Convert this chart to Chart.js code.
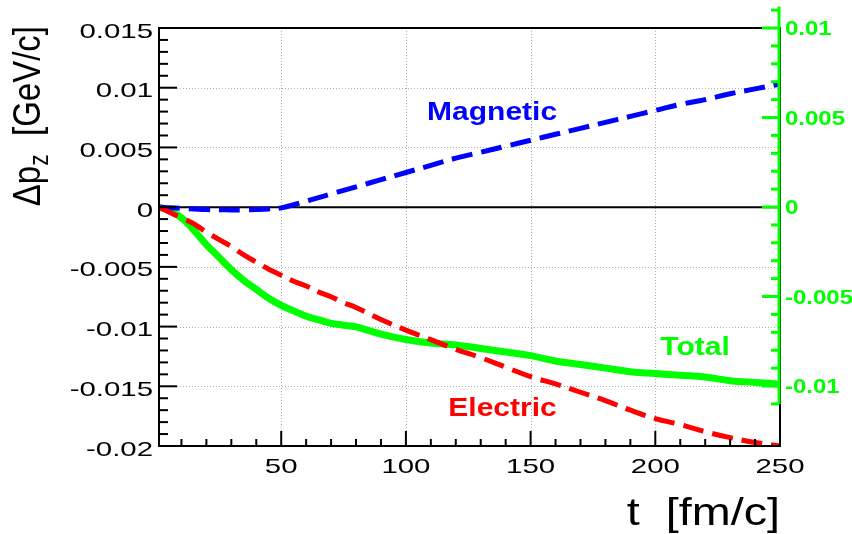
<!DOCTYPE html>
<html>
<head>
<meta charset="utf-8">
<script src="https://cdn.jsdelivr.net/npm/chart.js@4.4.1/dist/chart.umd.min.js"></script>
<style>
  html, body { margin: 0; padding: 0; background: #ffffff; }
  canvas { display: block; }
</style>
</head>
<body>
<canvas id="chart" width="852" height="534"></canvas>
<script>
// Time in fm/c
const tValues = [1, 5, 10, 15, 20, 25, 30, 35, 40, 45, 50, 55, 60, 65, 70, 75, 80, 90, 100,
                 110, 120, 130, 140, 150, 160, 170, 180, 190, 200, 210, 220, 230, 240, 250];

// Momentum change along z, GeV/c (left axis)
const magnetic = [0, -0.00005, -0.0001, -0.00015, -0.0002, -0.00022, -0.00023, -0.00023, -0.0002, -0.00015,
                  -0.00006, 0.0002, 0.0005, 0.0008, 0.0011, 0.0014, 0.0017, 0.0023, 0.0029,
                  0.0035, 0.0041, 0.0046, 0.0051, 0.0056, 0.0061, 0.0066, 0.0071, 0.0076, 0.0081,
                  0.0086, 0.0090, 0.0095, 0.0099, 0.0103];
const electric = [0, -0.0004, -0.0009, -0.0014, -0.0021, -0.0027, -0.0033, -0.0040, -0.0046, -0.0052,
                  -0.0057, -0.0062, -0.0066, -0.0071, -0.0075, -0.0080, -0.0084, -0.0094, -0.0103,
                  -0.0111, -0.0119, -0.0126, -0.0134, -0.0142, -0.0148, -0.0155, -0.0162, -0.0170, -0.0177,
                  -0.0182, -0.0188, -0.0193, -0.0197, -0.0200];
// Sum of both contributions (right axis)
const total = [0, -0.0002, -0.0006, -0.0013, -0.0021, -0.0028, -0.0035, -0.0041, -0.0046, -0.0051,
               -0.0055, -0.0058, -0.0061, -0.0063, -0.0065, -0.0066, -0.0067, -0.0071, -0.0074,
               -0.0076, -0.0077, -0.0079, -0.0081, -0.0083, -0.0086, -0.0088, -0.0090, -0.0092, -0.0093,
               -0.0094, -0.0095, -0.0097, -0.0098, -0.0099];

const seriesNames = ['Magnetic', 'Electric', 'Total'];
const xTickLabels = [50, 100, 150, 200, 250];
const yTickLabels = [0.015, 0.01, 0.005, 0, -0.005, -0.01, -0.015, -0.02];
const y2TickLabels = [0.01, 0.005, 0, -0.005, -0.01];

const X_MIN = 1, X_MAX = 250;
const Y_MIN = -0.02, Y_MAX = 0.015;
const Y2_MIN = -0.01335, Y2_MAX = 0.01;
const Y2_AXIS_FROM = -0.011, Y2_AXIS_TO = 0.0112;

const BLUE = '#0000ff', RED = '#ff0000', GREEN = '#00ff00';
const FONT = '"Liberation Sans", Arial, Helvetica, sans-serif';

function pts(ys) { return tValues.map((t, i) => ({ x: t, y: ys[i] })); }

function drawText(ctx, s, x, y, o) {
  ctx.save();
  ctx.translate(x, y);
  if (o.rot) ctx.rotate(o.rot);
  ctx.scale(o.sx || 1, o.sy || 1);
  ctx.font = o.font;
  ctx.fillStyle = o.color || '#000';
  ctx.textAlign = o.align || 'left';
  ctx.textBaseline = 'alphabetic';
  ctx.fillText(s, 0, 0);
  ctx.restore();
}

function seg(ctx, x1, y1, x2, y2) {
  ctx.beginPath(); ctx.moveTo(x1, y1); ctx.lineTo(x2, y2); ctx.stroke();
}

const framePlugin = {
  id: 'frameAxes',
  beforeDatasetsDraw(chart) {
    const { ctx, chartArea: a, scales } = chart;
    const x = scales.x, y = scales.y;
    ctx.save();
    // dotted grid
    ctx.strokeStyle = '#b0b0b0';
    ctx.lineWidth = 1;
    ctx.setLineDash([1, 2]);
    xTickLabels.forEach(t => {
      if (t >= X_MAX) return;
      const px = Math.round(x.getPixelForValue(t)) + 0.5;
      seg(ctx, px, a.top, px, a.bottom);
    });
    yTickLabels.forEach(v => {
      if (v === 0 || v >= Y_MAX || v <= Y_MIN) return;
      const py = Math.round(y.getPixelForValue(v)) + 0.5;
      seg(ctx, a.left, py, a.right, py);
    });
    ctx.setLineDash([]);
    // zero line
    ctx.strokeStyle = '#000';
    ctx.lineWidth = 2;
    const y0 = y.getPixelForValue(0);
    seg(ctx, a.left, y0, a.right, y0);
    ctx.restore();
  },
  afterDatasetsDraw(chart) {
    const { ctx, chartArea: a, scales } = chart;
    const x = scales.x, y = scales.y, y2 = scales.y2;
    ctx.save();
    ctx.strokeStyle = '#000';
    ctx.lineWidth = 2;
    ctx.lineCap = 'butt';
    // frame
    ctx.strokeRect(a.left, a.top, a.right - a.left, a.bottom - a.top);

    // left axis ticks (inward), every 0.001
    for (let i = -20; i <= 15; i++) {
      const py = y.getPixelForValue(i / 1000);
      const len = (i % 5 === 0) ? 18 : 9;
      seg(ctx, a.left, py, a.left + len, py);
    }
    // bottom axis ticks (inward), every 10
    for (let t = 10; t <= 250; t += 10) {
      const px = x.getPixelForValue(t);
      const len = (t % 50 === 0) ? 15 : 7;
      seg(ctx, px, a.bottom, px, a.bottom - len);
    }

    // tick labels
    const tickFont = '21px ' + FONT;
    yTickLabels.forEach(v => {
      drawText(ctx, String(v), a.left - 6, y.getPixelForValue(v) + 9.5,
        { font: tickFont, align: 'right', sx: 1.4 });
    });
    xTickLabels.forEach(t => {
      drawText(ctx, String(t), x.getPixelForValue(t), a.bottom + 27,
        { font: tickFont, align: 'center', sx: 1.4 });
    });

    // right-hand axis for the total
    ctx.strokeStyle = GREEN;
    ctx.lineWidth = 3;
    const gTop = y2.getPixelForValue(Y2_AXIS_TO);
    const gBot = y2.getPixelForValue(Y2_AXIS_FROM);
    const gx = a.right - 1;
    seg(ctx, gx, gTop, gx, gBot);
    for (let i = -11; i <= 11; i++) {
      const py = y2.getPixelForValue(i / 1000);
      const len = (i % 5 === 0) ? 17 : 8;
      seg(ctx, gx, py, gx - len, py);
    }
    y2TickLabels.forEach(v => {
      drawText(ctx, String(v), a.right + 5, y2.getPixelForValue(v) + 7,
        { font: 'bold 20px ' + FONT, color: GREEN, align: 'left', sx: 1.2 });
    });

    // series labels
    const lblFont = 'bold 25px ' + FONT;
    drawText(ctx, seriesNames[0], x.getPixelForValue(108.5), y.getPixelForValue(0.0073),
      { font: lblFont, color: BLUE, sx: 1.2 });
    drawText(ctx, seriesNames[1], x.getPixelForValue(117), y.getPixelForValue(-0.0175),
      { font: lblFont, color: RED, sx: 1.2 });
    drawText(ctx, seriesNames[2], x.getPixelForValue(202), y.getPixelForValue(-0.0124),
      { font: lblFont, color: GREEN, sx: 1.2 });

    // x title
    drawText(ctx, 't  [fm/c]', a.right, 525, { font: '38px ' + FONT, align: 'right', sx: 1.23 });

    // y title: Δp_z  [GeV/c], reading upwards, ending at the top of the frame
    ctx.save();
    ctx.translate(40, a.top - 2);
    ctx.rotate(-Math.PI / 2);
    ctx.scale(1, 1.2);
    ctx.fillStyle = '#000';
    ctx.textBaseline = 'alphabetic';
    ctx.textAlign = 'left';
    const big = '33px ' + FONT, small = '23px ' + FONT;
    ctx.font = big;
    const w1 = ctx.measureText('\u0394p').width;
    const w3 = ctx.measureText('  [GeV/c]').width;
    ctx.font = small;
    const w2 = ctx.measureText('z').width;
    let cx = -(w1 + w2 + w3);
    ctx.font = big; ctx.fillText('\u0394p', cx, 0); cx += w1;
    ctx.font = small; ctx.fillText('z', cx, 7); cx += w2;
    ctx.font = big; ctx.fillText('  [GeV/c]', cx, 0);
    ctx.restore();

    ctx.restore();
  }
};

new Chart(document.getElementById('chart'), {
  type: 'line',
  data: {
    datasets: [
      { label: seriesNames[0], data: pts(magnetic), yAxisID: 'y', borderColor: BLUE,
        borderWidth: 5, borderDash: [21, 9], tension: 0.4, order: 1 },
      { label: seriesNames[1], data: pts(electric), yAxisID: 'y', borderColor: RED,
        borderWidth: 5, borderDash: [21, 9], tension: 0.4, order: 0 },
      { label: seriesNames[2], data: pts(total), yAxisID: 'y2', borderColor: GREEN,
        borderWidth: 7, tension: 0.4, order: 2 }
    ]
  },
  options: {
    responsive: false,
    animation: false,
    devicePixelRatio: 1,
    layout: { padding: { left: 159, top: 28, right: 72, bottom: 88 } },
    elements: { point: { radius: 0 } },
    plugins: { legend: { display: false }, tooltip: { enabled: false } },
    scales: {
      x: { type: 'linear', min: X_MIN, max: X_MAX, display: false },
      y: { min: Y_MIN, max: Y_MAX, display: false },
      y2: { min: Y2_MIN, max: Y2_MAX, display: false }
    }
  },
  plugins: [framePlugin]
});
</script>
</body>
</html>
